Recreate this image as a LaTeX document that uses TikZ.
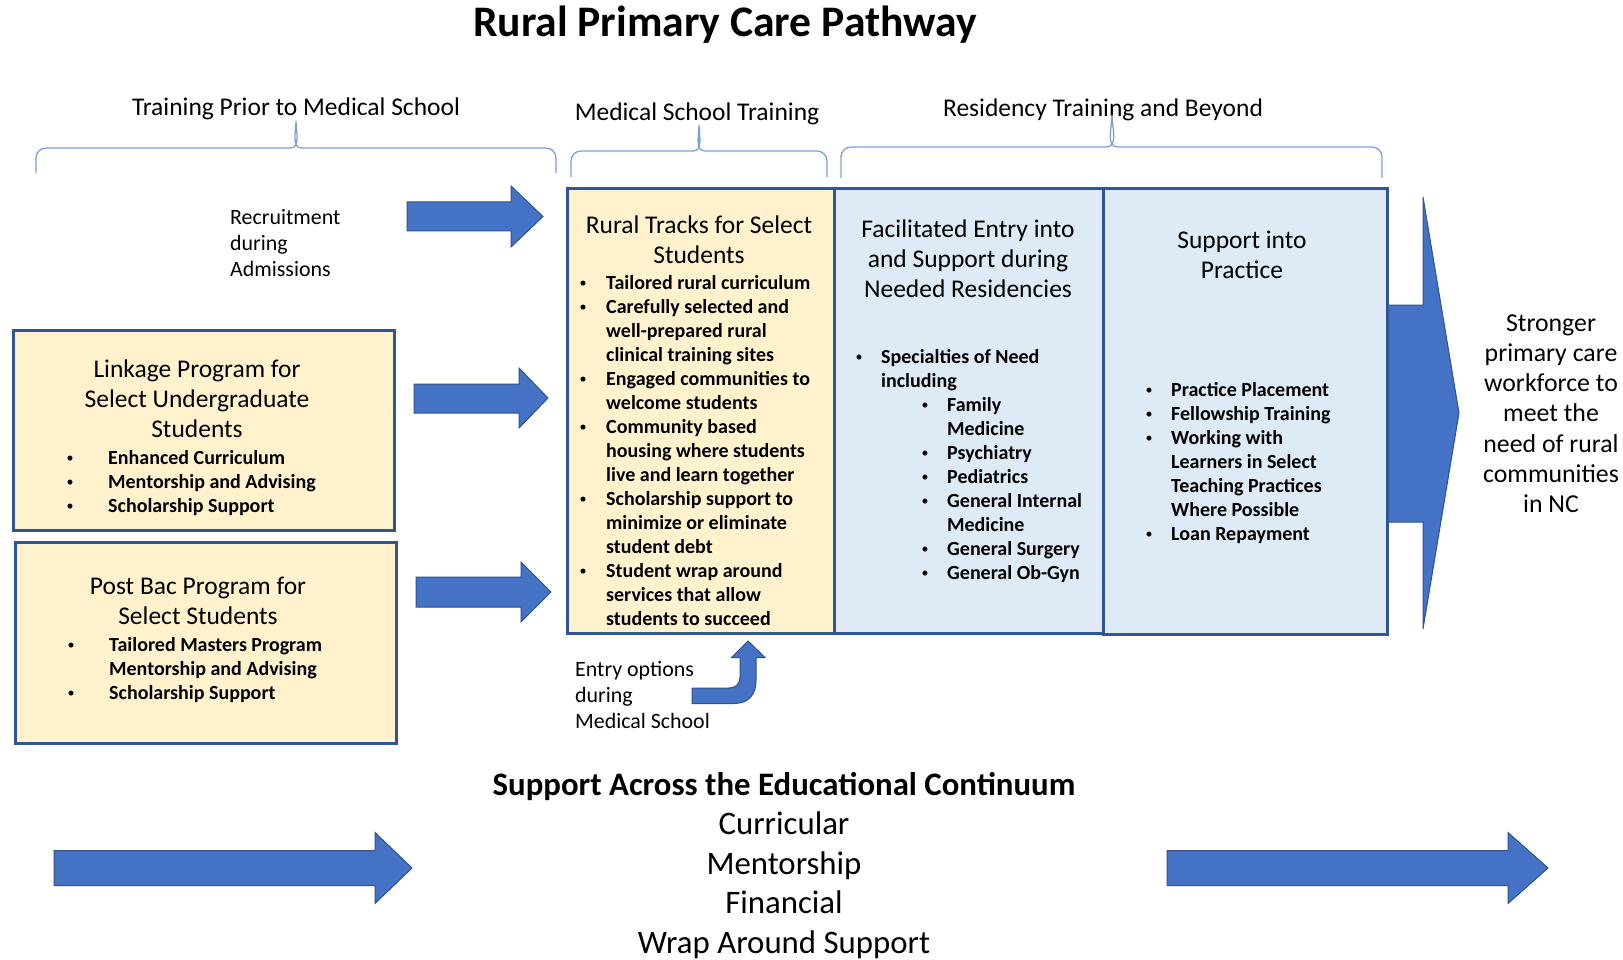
\documentclass[tikz,border=0pt]{standalone}
\usepackage{fontspec}
\setmainfont{Carlito}
\definecolor{yel}{HTML}{FFF2CC}
\definecolor{lblue}{HTML}{DEEAF6}
\definecolor{boxline}{HTML}{2F5597}
\definecolor{arrfill}{HTML}{4472C4}
\definecolor{arrline}{HTML}{2F528F}
\definecolor{bracecol}{HTML}{7EA0D8}
\newcommand\bu[1]{\llap{\makebox[0pt]{\raisebox{1.6pt}{\fontsize{14}{14}\selectfont\mdseries\textbullet}}\hspace*{#1pt}}}
\newcommand\sub{\hspace*{66pt}}
\begin{document}
\begin{tikzpicture}[x=1pt,y=-1pt,
  ybox/.style={draw=boxline, line width=3pt, fill=yel, inner sep=0pt},
  bbox/.style={draw=boxline, line width=3pt, fill=lblue, inner sep=0pt},
  blk/.style={fill=arrfill, draw=arrline, line width=1pt, line join=miter},
  brace/.style={draw=bracecol, line width=1.3pt},
  hdr/.style={font=\fontsize{25.5}{30}\selectfont, inner sep=0pt, anchor=base},
  body/.style={font=\fontsize{20}{24}\selectfont\bfseries, inner sep=0pt, anchor=base west},
  small/.style={font=\fontsize{21.9}{26}\selectfont, inner sep=0pt, anchor=base west}]
\useasboundingbox (0,0) rectangle (1623,960);
\fill[white] (0,0) rectangle (1623,960);

% title
\node[font=\fontsize{43.6}{50}\selectfont\bfseries, inner sep=0pt, anchor=base] (title) at (725,37) {Rural Primary Care Pathway};

% section labels
\node[hdr] (sec1) at (296,116) {Training Prior to Medical School};
\node[hdr] (sec2) at (697,121) {Medical School Training};
\node[hdr] (sec3) at (1103,117) {Residency Training and Beyond};

% braces
\draw[brace] (36,173) -- (36,158) to[out=90,in=180] (46,148) -- (290,148) to[out=0,in=-90] (296,121) to[out=-90,in=180] (302,148) -- (546,148) to[out=0,in=90] (556,158) -- (556,173);
\draw[brace] (571,177) -- (571,161) to[out=90,in=180] (581,151) -- (693,151) to[out=0,in=-90] (699,125) to[out=-90,in=180] (705,151) -- (817,151) to[out=0,in=90] (827,161) -- (827,177);
\draw[brace] (841,178) -- (841,157) to[out=90,in=180] (851,147) -- (1106,147) to[out=0,in=-90] (1112,115) to[out=-90,in=180] (1118,147) -- (1372,147) to[out=0,in=90] (1382,157) -- (1382,178);

% big outcome arrow (behind boxes)
\filldraw[blk] (1375,305) -- (1423,305) -- (1423,197) -- (1459,413) -- (1423,629) -- (1423,522) -- (1375,522) -- cycle;

% boxes
\node[ybox, minimum width=381pt, minimum height=200pt] (link) at (203.5,430) {};
\node[ybox, minimum width=381pt, minimum height=201pt] (postbac) at (205.5,642.5) {};
\node[ybox, minimum width=267pt, minimum height=444pt] (rural) at (700.5,411) {};
\node[bbox, minimum width=269pt, minimum height=444pt] (facil) at (968.5,411) {};
\node[bbox, minimum width=284pt, minimum height=445pt] (supp) at (1245,411.5) {};

% block arrows
\filldraw[blk] (407,202) -- (511,202) -- (511,186) -- (543,216.5) -- (511,247) -- (511,231) -- (407,231) -- cycle;
\filldraw[blk] (414,384) -- (519,384) -- (519,368) -- (548,398) -- (519,428) -- (519,413) -- (414,413) -- cycle;
\filldraw[blk] (416,577) -- (521,577) -- (521,562) -- (551,592) -- (521,622) -- (521,607) -- (416,607) -- cycle;
\filldraw[blk] (54,850.5) -- (375,850.5) -- (375,832.5) -- (412,868) -- (375,903.5) -- (375,885.5) -- (54,885.5) -- cycle;
\filldraw[blk] (1167,850.5) -- (1508,850.5) -- (1508,832.5) -- (1548,868) -- (1508,903.5) -- (1508,885.5) -- (1167,885.5) -- cycle;
% bent-up arrow
\filldraw[blk] (692,688) -- (729,688) .. controls (736,688) and (740,684) .. (740,677) -- (740,657.5) -- (731.5,657.5) -- (748,641) -- (765,657.5) -- (756,657.5) -- (756,681) .. controls (756,695) and (748,703.5) .. (734,703.5) -- (692,703.5) -- cycle;

% texts
\node[small] (recr) at (230,225) {\begin{tabular}[t]{@{}l@{}}Recruitment\\during\\Admissions\end{tabular}};
\node[small] (entry) at (575,676) {\begin{tabular}[t]{@{}l@{}}Entry options\\during\\Medical School\end{tabular}};

\node[hdr] (linkt) at (197,377) {\begin{tabular}[t]{@{}c@{}}Linkage Program for\\Select Undergraduate\\Students\end{tabular}};
\node[body] (linkb) at (108,464) {\begin{tabular}[t]{@{}l@{}}\bu{38}Enhanced Curriculum\\\bu{38}Mentorship and Advising\\\bu{38}Scholarship Support\end{tabular}};

\node[hdr] (postt) at (198,594) {\begin{tabular}[t]{@{}c@{}}Post Bac Program for\\Select Students\end{tabular}};
\node[body] (postb) at (109,651) {\begin{tabular}[t]{@{}l@{}}\bu{38}Tailored Masters Program\\Mentorship and Advising\\\bu{38}Scholarship Support\end{tabular}};

\node[hdr] (ruralt) at (699,234) {\begin{tabular}[t]{@{}c@{}}Rural Tracks for Select\\Students\end{tabular}};
\node[body] (ruralb) at (606,289.5) {\begin{tabular}[t]{@{}l@{}}
\bu{23}Tailored rural curriculum\\
\bu{23}Carefully selected and\\
well-prepared rural\\
clinical training sites\\
\bu{23}Engaged communities to\\
welcome students\\
\bu{23}Community based\\
housing where students\\
live and learn together\\
\bu{23}Scholarship support to\\
minimize or eliminate\\
student debt\\
\bu{23}Student wrap around\\
services that allow\\
students to succeed\end{tabular}};

\node[hdr] (facilt) at (968,238) {\begin{tabular}[t]{@{}c@{}}Facilitated Entry into\\and Support during\\Needed Residencies\end{tabular}};
\node[body] (facilb) at (881,363) {\begin{tabular}[t]{@{}l@{}}
\bu{22}Specialties of Need\\
including\\
\sub\bu{22}Family\\
\sub Medicine\\
\sub\bu{22}Psychiatry\\
\sub\bu{22}Pediatrics\\
\sub\bu{22}General Internal\\
\sub Medicine\\
\sub\bu{22}General Surgery\\
\sub\bu{22}General Ob-Gyn\end{tabular}};

\node[hdr] (suppt) at (1242,249) {\begin{tabular}[t]{@{}c@{}}Support into\\Practice\end{tabular}};
\node[body] (suppb) at (1171,396) {\begin{tabular}[t]{@{}l@{}}
\bu{22}Practice Placement\\
\bu{22}Fellowship Training\\
\bu{22}Working with\\
Learners in Select\\
Teaching Practices\\
Where Possible\\
\bu{22}Loan Repayment\end{tabular}};

\node[hdr, font=\fontsize{25.8}{30.3}\selectfont] (outcome) at (1551,331) {\begin{tabular}[t]{@{}c@{}}Stronger\\primary care\\workforce to\\meet the\\need of rural\\communities\\in NC\end{tabular}};

\node[font=\fontsize{32.8}{39.6}\selectfont, inner sep=0pt, anchor=base] (cont) at (784,795) {\begin{tabular}[t]{@{}c@{}}\textbf{Support Across the Educational Continuum}\\Curricular\\Mentorship\\Financial\\Wrap Around Support\end{tabular}};
\end{tikzpicture}
\end{document}
